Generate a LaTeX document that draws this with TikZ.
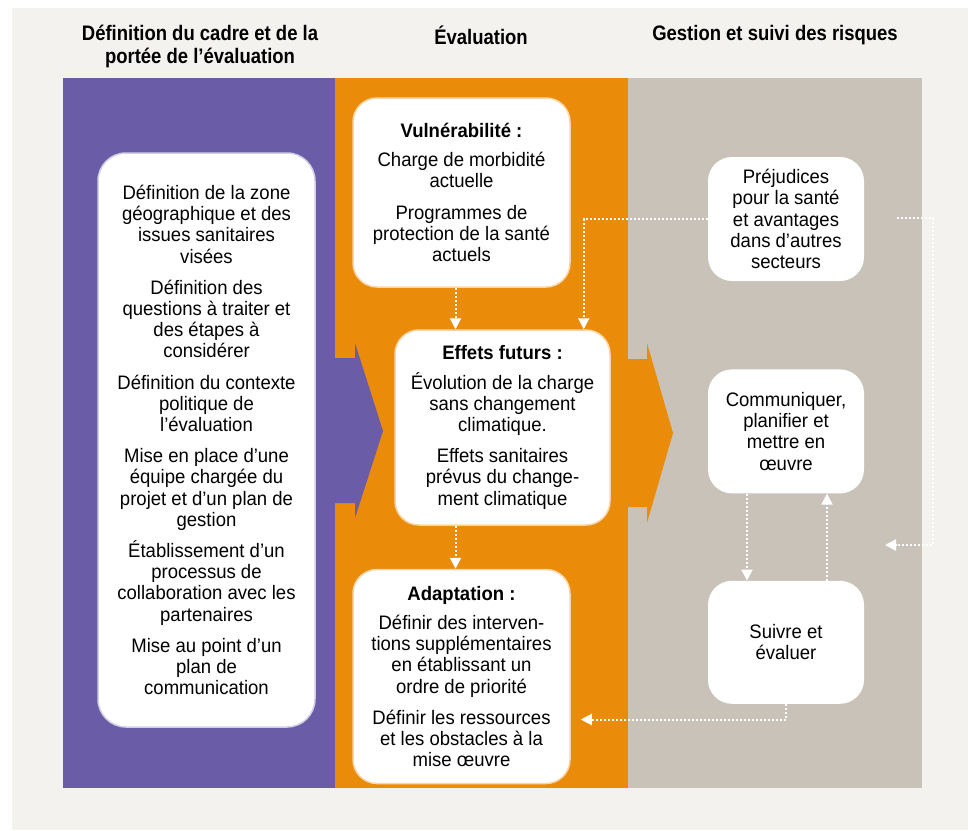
\documentclass[tikz,border=0pt]{standalone}
\usepackage{fontspec}
\setmainfont{Liberation Sans}[FakeStretch=0.95]
\newfontfamily\headfont{Liberation Sans}[FakeStretch=0.88]
\usetikzlibrary{arrows.meta,positioning}
\definecolor{bgpale}{RGB}{244,242,239}
\definecolor{colpurple}{RGB}{106,92,166}
\definecolor{colorange}{RGB}{234,139,10}
\definecolor{colgrey}{RGB}{201,194,184}

\begin{document}
\begin{tikzpicture}[x=1pt, y=-1pt,
    box/.style={fill=white, rounded corners=24pt, align=center, inner sep=0pt, font=\fontsize{19.5}{21.2}\selectfont},
    head/.style={align=center, font=\headfont\bfseries\fontsize{21}{23}\selectfont},
    link/.style={-{Triangle[length=11pt,width=11pt]}, white, line width=2pt, dotted}
]
\useasboundingbox (0,0) rectangle (968,830);
\fill[white] (0,0) rectangle (968,830);
\fill[bgpale] (12,8) rectangle (968,830);

% columns
\fill[colpurple] (63,78) rectangle (335,788);
\fill[colorange] (335,78) rectangle (628,788);
\fill[colgrey] (628,78) rectangle (922,788);
\fill[colpurple] (335,358) -- (355,358) -- (355,343) -- (383,431) -- (355,518) -- (355,503) -- (335,503) -- cycle;
\fill[colorange] (628,359) -- (647,359) -- (647,343) -- (673,433) -- (647,523) -- (647,507) -- (628,507) -- cycle;

% headings
\node[head] (headdef) at (200,46) {Définition du cadre et de la\\portée de l’évaluation};
\node[head] (headeval) at (481,35) {Évaluation};
\node[head] (headrisk) at (775,35) {Gestion et suivi des risques};

% scope column
\node[box, draw=colpurple!30!white, line width=1.5pt, rounded corners=28pt,
      minimum width=217pt, minimum height=574pt] (scope) at (206.5,440)
  {Définition de la zone\\géographique et des\\issues sanitaires\\visées\\[10pt]
   Définition des\\questions à traiter et\\des étapes à\\considérer\\[10pt]
   Définition du contexte\\politique de\\l’évaluation\\[10pt]
   Mise en place d’une\\équipe chargée du\\projet et d’un plan de\\gestion\\[10pt]
   Établissement d’un\\processus de\\collaboration avec les\\partenaires\\[10pt]
   Mise au point d’un\\plan de\\communication};

% assessment column
\node[box, draw=colorange!35!white, line width=1.5pt,
      minimum width=217pt, minimum height=189pt] (vuln) at (461.5,192.5)
  {\textbf{Vulnérabilité :}\\[8pt]
   Charge de morbidité\\actuelle\\[10pt]
   Programmes de\\protection de la santé\\actuels};
\node[box, draw=colorange!35!white, line width=1.5pt,
      minimum width=215pt, minimum height=195pt] (effets) at (502.5,427.5)
  {\textbf{Effets futurs :}\\[8pt]
   Évolution de la charge\\sans changement\\climatique.\\[10pt]
   Effets sanitaires\\prévus du change-\\ment climatique};
\node[box, draw=colorange!35!white, line width=1.5pt,
      minimum width=217pt, minimum height=214pt,
      below=43pt of effets, xshift=-41pt] (adapt)
  {\textbf{Adaptation :}\\[8pt]
   Définir des interven-\\tions supplémentaires\\en établissant un\\ordre de priorité\\[10pt]
   Définir les ressources\\et les obstacles à la\\mise œuvre};

% risk column
\node[box, minimum width=156pt, minimum height=124pt] (prej) at (786,219)
  {Préjudices\\pour la santé\\et avantages\\dans d’autres\\secteurs};
\node[box, minimum width=156pt, minimum height=124pt, below=88pt of prej] (comm)
  {Communiquer,\\planifier et\\mettre en\\œuvre};
\node[box, minimum width=156pt, minimum height=123pt, below=87pt of comm] (suivre)
  {Suivre et\\évaluer};

% connectors
\coordinate (loopa) at (897,218);
\coordinate (loopb) at (885,545);
\draw[link] ([xshift=-6pt]vuln.south) -- ([xshift=-6pt]vuln.south |- effets.north);
\draw[link] ([xshift=-6pt]adapt.north |- effets.south) -- ([xshift=-6pt]adapt.north);
\draw[link] (prej.west) -| ([xshift=-27pt]effets.north east);
\draw[link] (loopa) -| ([xshift=48pt]loopb) -- (loopb);
\draw[link] ([xshift=-39pt]comm.south) -- ([xshift=-39pt]suivre.north);
\draw[link] ([xshift=41pt]suivre.north) -- ([xshift=41pt]comm.south);
\draw[link] (suivre.south) |- ([xshift=10pt,yshift=-43pt]adapt.east);
\end{tikzpicture}
\end{document}
